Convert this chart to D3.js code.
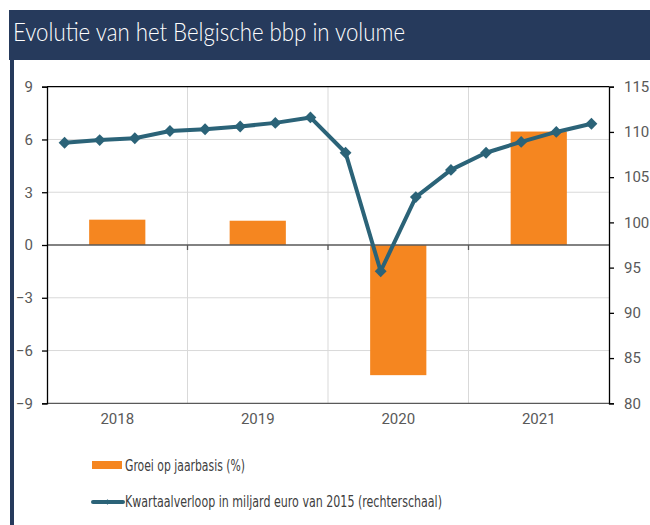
<!DOCTYPE html>
<html>
<head>
<meta charset="utf-8">
<script src="https://cdn.jsdelivr.net/npm/d3@7"></script>
<style>
  body { margin: 0; background: #fff; }
  svg { display: block; }
</style>
</head>
<body>
<svg width="650" height="525"></svg>
<script>
// data
var years = ["2018", "2019", "2020", "2021"];
var growth = [1.44, 1.38, -7.4, 6.45];   // groei op jaarbasis (%)
var quarters = ["2018Q1","2018Q2","2018Q3","2018Q4","2019Q1","2019Q2","2019Q3","2019Q4",
                "2020Q1","2020Q2","2020Q3","2020Q4","2021Q1","2021Q2","2021Q3","2021Q4"];
var volume = [108.8, 109.1, 109.3, 110.1, 110.3, 110.6, 111.0, 111.6,
              107.7, 94.6, 102.8, 105.8, 107.7, 108.9, 110.0, 110.9];
var leftTicks = [-9, -6, -3, 0, 3, 6, 9];
var rightTicks = [80, 85, 90, 95, 100, 105, 110, 115];

var svg = d3.select("svg");
var navy = "#263a5c";
var orange = "#f58620";
var teal = "#2b6378";
var grey = "#595959";

// plot edges (note: "top" clashes with window.top, so use p* names)
var pLeft = 47, pRight = 609, pTop = 86.7, pBottom = 403.3;

// title bar + left border
svg.append("rect").attr("x", 9).attr("y", 10).attr("width", 641).attr("height", 50).attr("fill", navy);
svg.append("rect").attr("x", 10).attr("y", 60).attr("width", 4).attr("height", 465).attr("fill", navy);
svg.append("text")
  .attr("x", 13).attr("y", 41)
  .attr("fill", "#fff")
  .style("font-family", "Lato, 'Open Sans', sans-serif")
  .style("font-weight", 300)
  .style("font-size", "25px")
  .attr("textLength", 392).attr("lengthAdjust", "spacingAndGlyphs")
  .text("Evolutie van het Belgische bbp in volume");

var x = d3.scaleBand().domain(years).range([pLeft, pRight]);
var xq = d3.scaleBand().domain(quarters).range([pLeft, pRight]);
var y = d3.scaleLinear().domain([-9, 9]).range([pBottom, pTop]);
var y2 = d3.scaleLinear().domain([80, 115]).range([pBottom, pTop]);

var g = svg.append("g");

// gridlines
g.selectAll(".hgrid").data(leftTicks.filter(t => t != 0 && Math.abs(t) != 9)).enter()
  .append("line")
  .attr("x1", pLeft).attr("x2", pRight)
  .attr("y1", d => y(d)).attr("y2", d => y(d))
  .attr("stroke", "#d9d9d9").attr("stroke-width", 1);
g.selectAll(".vgrid").data(years.slice(1)).enter()
  .append("line")
  .attr("x1", d => x(d)).attr("x2", d => x(d))
  .attr("y1", pTop).attr("y2", pBottom)
  .attr("stroke", "#d9d9d9").attr("stroke-width", 1);

// bars
var bw = x.bandwidth() * 0.4;
g.selectAll(".bar").data(years).enter()
  .append("rect")
  .attr("x", (d, i) => x(d) + x.bandwidth() / 2 - bw / 2)
  .attr("width", bw)
  .attr("y", (d, i) => y(Math.max(0, growth[i])))
  .attr("height", (d, i) => Math.abs(y(growth[i]) - y(0)))
  .attr("fill", orange);

// zero line with category ticks
g.append("line").attr("x1", pLeft).attr("x2", pRight)
  .attr("y1", y(0)).attr("y2", y(0)).attr("stroke", grey).attr("stroke-width", 1.3);
g.selectAll(".ztick").data(years.slice(1)).enter()
  .append("line")
  .attr("x1", d => x(d)).attr("x2", d => x(d))
  .attr("y1", y(0)).attr("y2", y(0) + 5)
  .attr("stroke", grey).attr("stroke-width", 1.3);

// frame
g.append("line").attr("x1", pLeft).attr("x2", pRight).attr("y1", pBottom).attr("y2", pBottom)
  .attr("stroke", grey).attr("stroke-width", 1.3);
g.append("line").attr("x1", pLeft).attr("x2", pRight).attr("y1", pTop).attr("y2", pTop)
  .attr("stroke", "#000").attr("stroke-width", 1.3);

// left axis
var yAxis = g.append("g").attr("transform", "translate(" + pLeft + ",0)")
  .call(d3.axisLeft(y).tickValues(leftTicks).tickSize(5).tickPadding(9));
// right axis
var yAxis2 = g.append("g").attr("transform", "translate(" + pRight + ",0)")
  .call(d3.axisRight(y2).tickValues(rightTicks).tickSize(5).tickPadding(10));
[yAxis, yAxis2].forEach(a => {
  a.select(".domain").attr("stroke", "#000").attr("stroke-width", 1.3);
  a.selectAll(".tick line").attr("stroke", "#000").attr("stroke-width", 1.3);
  a.selectAll("text").attr("fill", grey)
    .style("font-family", "Roboto, sans-serif").style("font-size", "15px");
});

// year labels
g.selectAll(".ylab").data(years).enter()
  .append("text")
  .attr("x", d => x(d) + x.bandwidth() / 2)
  .attr("y", 424)
  .attr("text-anchor", "middle")
  .attr("fill", grey)
  .style("font-family", "Roboto, sans-serif").style("font-size", "15px")
  .text(d => d);

// line
var line = d3.line()
  .x((d, i) => xq(quarters[i]) + xq.bandwidth() / 2)
  .y(d => y2(d));
g.append("path").datum(volume)
  .attr("d", line)
  .attr("fill", "none").attr("stroke", teal).attr("stroke-width", 4)
  .attr("stroke-linejoin", "round");
var diamond = d3.symbol().type(d3.symbolSquare).size(70);
g.selectAll(".mk").data(volume).enter()
  .append("path")
  .attr("d", diamond)
  .attr("transform", (d, i) => "translate(" + (xq(quarters[i]) + xq.bandwidth() / 2) + "," + y2(d) + ") rotate(45)")
  .attr("fill", teal);

// legend
var lg = svg.append("g");
lg.append("rect").attr("x", 92).attr("y", 461).attr("width", 30).attr("height", 8).attr("fill", orange);
lg.append("text").attr("x", 125).attr("y", 471)
  .attr("fill", "#404040")
  .style("font-family", "'DejaVu Sans Condensed', 'Liberation Sans Narrow', sans-serif").style("font-size", "15.5px")
  .attr("textLength", 120).attr("lengthAdjust", "spacingAndGlyphs")
  .text("Groei op jaarbasis (%)");
lg.append("line").attr("x1", 93).attr("x2", 123).attr("y1", 502).attr("y2", 502)
  .attr("stroke", teal).attr("stroke-width", 4).attr("stroke-linecap", "round");
lg.append("path").attr("d", d3.symbol().type(d3.symbolSquare).size(14))
  .attr("transform", "translate(107.5,502) rotate(45)").attr("fill", teal);
lg.append("text").attr("x", 125).attr("y", 507)
  .attr("fill", "#404040")
  .style("font-family", "'DejaVu Sans Condensed', 'Liberation Sans Narrow', sans-serif").style("font-size", "15.5px")
  .attr("textLength", 317).attr("lengthAdjust", "spacingAndGlyphs")
  .text("Kwartaalverloop in miljard euro van 2015 (rechterschaal)");
</script>
</body>
</html>
